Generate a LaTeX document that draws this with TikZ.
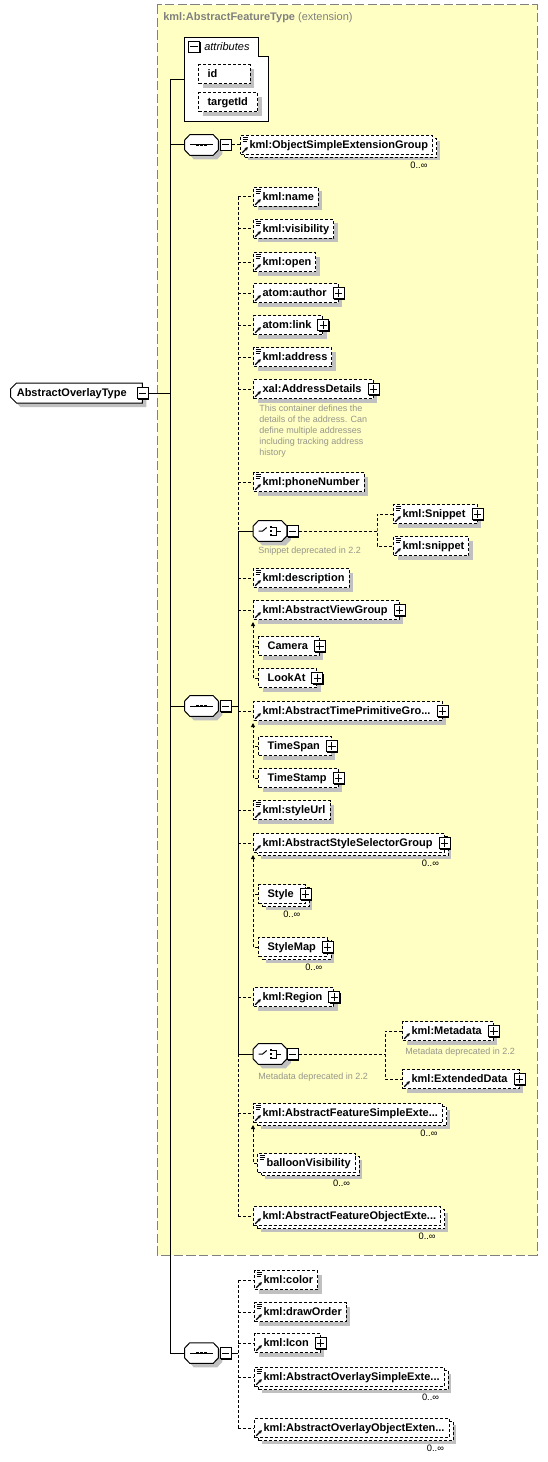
\documentclass[tikz,border=0pt]{standalone}
\usepackage{fontspec}
\setmainfont{Liberation Sans}
\usetikzlibrary{shapes.misc, shadows, arrows.meta}
\usetikzlibrary{positioning}

\definecolor{panelyellow}{RGB}{255,255,196}
\definecolor{panelgray}{RGB}{128,128,128}
\definecolor{shadowgray}{RGB}{192,192,192}
\definecolor{notegray}{RGB}{150,150,140}

% octagon outline of a compositor node
\newcommand{\octpath}[1]{([yshift=3.75pt]#1.west) -- ([xshift=3.75pt]#1.north west)
    -- ([xshift=-3.75pt]#1.north east) -- ([yshift=3.75pt]#1.east)
    -- ([yshift=-3.75pt]#1.east) -- ([xshift=-3.75pt]#1.south east)
    -- ([xshift=3.75pt]#1.south west) -- ([yshift=-3.75pt]#1.west) -- cycle}

\tikzset{
    elembase/.style = {
        rectangle,
        draw,
        line width=0.75pt,
        dash pattern=on 2.25pt off 1.5pt,
        fill=white,
        font=\bfseries\fontsize{8.25}{10}\selectfont,
        minimum height=14.25pt,
        inner xsep=3.4pt,
        inner ysep=0pt,
        text height=6.3pt,
        text depth=1.7pt,
        anchor=west,
        execute at begin node={\hspace*{3.4pt}},
    },
    elem/.style = {
        elembase,
        drop shadow={shadow xshift=3pt, shadow yshift=-3pt, fill=shadowgray, opacity=1},
    },
    multi/.style = {
        elembase,
        general shadow={shadow xshift=5.25pt, shadow yshift=-4.5pt, fill=shadowgray},
        general shadow={shadow xshift=3pt, shadow yshift=-2.25pt, fill=white, draw=black,
            line width=0.75pt, dash pattern=on 2.25pt off 1.5pt},
    },
    attrib/.style = {
        elem,
        align=left,
    },
    simple/.style = {
        postaction={path picture={
            \draw[solid, line width=0.6pt]
                ([xshift=1.5pt, yshift=-1.1pt]path picture bounding box.north west) -- ++(4.2pt,0)
                ([xshift=1.5pt, yshift=-2.6pt]path picture bounding box.north west) -- ++(4.2pt,0)
                ([xshift=1.5pt, yshift=-4.1pt]path picture bounding box.north west) -- ++(3.2pt,0);
        }},
    },
    ref/.style = {
        postaction={path picture={
            \draw[solid, line width=0.9pt, -{Stealth[length=2.4pt, width=2.6pt]}]
                ([xshift=1.3pt, yshift=1.3pt]path picture bounding box.south west) -- ++(4.2pt,4.2pt);
        }},
    },
    pmbox/.style = {
        rectangle,
        draw,
        solid,
        fill=white,
        line width=0.75pt,
        minimum size=8.25pt,
        inner sep=0pt,
        drop shadow={shadow xshift=0.75pt, shadow yshift=-0.75pt, fill=black, opacity=1},
    },
    minusbox/.style = {
        pmbox,
        path picture={
            \draw[line width=0.75pt] ([xshift=-2.7pt]path picture bounding box.center)
                -- ([xshift=2.7pt]path picture bounding box.center);
        },
    },
    plusbox/.style = {
        pmbox,
        path picture={
            \draw[line width=0.75pt] ([xshift=-2.7pt]path picture bounding box.center)
                -- ([xshift=2.7pt]path picture bounding box.center)
                ([yshift=-2.7pt]path picture bounding box.center)
                -- ([yshift=2.7pt]path picture bounding box.center);
        },
    },
    withplus/.style = {
        execute at end node={\hspace*{5.25pt}},
        append after command={node (\tikzlastnode-plus) [plusbox] at (\tikzlastnode.east) {}},
    },
    compnode/.style = {
        rectangle,
        minimum width=24.75pt,
        minimum height=15pt,
        inner sep=0pt,
    },
    compline/.style = {
        fill=white,
        line width=0.75pt,
    },
    rootbox/.style = {
        chamfered rectangle,
        chamfered rectangle corners={north west, south west},
        chamfered rectangle xsep=2.25pt,
        chamfered rectangle ysep=2.25pt,
        draw,
        line width=0.75pt,
        fill=white,
        font=\bfseries\fontsize{8.25}{10}\selectfont,
        minimum height=15pt,
        inner xsep=2.5pt,
        inner ysep=0pt,
        text height=6.3pt,
        text depth=1.7pt,
        anchor=west,
        execute at end node={\hspace*{7pt}},
        drop shadow={shadow xshift=3pt, shadow yshift=-3pt, fill=shadowgray, opacity=1},
    },
    mult/.style = {
        font=\fontsize{7}{8}\selectfont,
        inner sep=0pt,
        anchor=north east,
    },
    note/.style = {
        text=notegray,
        font=\fontsize{6.75}{8.25}\selectfont,
        align=left,
        inner sep=0pt,
    },
    optline/.style = {
        line width=0.75pt,
        dash pattern=on 2.25pt off 1.5pt,
    },
    reqline/.style = {
        line width=0.75pt,
    },
}

\begin{document}
\begin{tikzpicture}[x=0.75pt, y=-0.75pt]
        \useasboundingbox (0,0) rectangle (547,1462);

        % extension panel
        \draw[fill=panelyellow, draw=panelgray, line width=0.75pt, dash pattern=on 7pt off 2.5pt]
            (157,5) rectangle (537,1255);
        \node (exttitle) [anchor=west, inner sep=0pt, text=panelgray, font=\fontsize{8.25}{10}\selectfont]
            at (163,18) {\textbf{kml:AbstractFeatureType} (extension)};

        % attributes
        \draw[fill=white, line width=0.75pt] (184,38) -- (258,38) -- (258,57) -- (268,57)
            -- (268,122) -- (184,122) -- cycle;
        \node (attrm) [minusbox] at (194,47) {};
        \node (attrt) [anchor=west, inner sep=0pt, font=\itshape\fontsize{8.25}{10}\selectfont]
            at (204,47) {attributes};
        \node (id) [attrib, text width=32pt] at (198,74.5) {id};
        \node (tid) [attrib, text width=37.5pt] at (198,102.5) {targetId};
        \coordinate (attrw) at (184,80);

        % root
        \node (root) [rootbox] at (10,393) {AbstractOverlayType};
        \node (rootm) [minusbox] at (root.east) {};

        % compositors
        \node (seq1) [compnode] at (201.5,145) {};
        \node (seq2) [compnode] at (201.5,706) {};
        \node (seq3) [compnode] at (201.5,1353) {};
        \node (choice1) [compnode] at (270,531) {};
        \node (choice2) [compnode] at (270,1054) {};
        \foreach \c in {seq1,seq2,seq3,choice1,choice2} {
            \fill[shadowgray, transform canvas={shift={(3pt,-3pt)}}] \octpath{\c};
            \draw[compline] \octpath{\c};
        }
        \foreach \c in {seq1,seq2,seq3} {
            \draw[reqline] ([xshift=-8.6pt]\c.center) -- ([xshift=8.6pt]\c.center);
            \foreach \dx in {-3,0,3}
                \fill ([xshift=\dx pt]\c.center) ++(-0.9pt,-0.9pt) rectangle ++(1.8pt,1.8pt);
        }
        \foreach \c in {choice1,choice2} {
            \draw[reqline] ([xshift=-8.6pt]\c.center) -- ([xshift=-5.5pt]\c.center)
                -- ([xshift=-2.5pt,yshift=2.6pt]\c.center);
            \foreach \dy in {-3,0,3}
                \fill ([xshift=0.8pt,yshift=\dy pt]\c.center) ++(-0.9pt,-0.9pt) rectangle ++(1.8pt,1.8pt);
            \draw[reqline] ([xshift=1.8pt,yshift=3pt]\c.center) -- ([xshift=4.5pt,yshift=3pt]\c.center)
                -- ([xshift=4.5pt,yshift=-3pt]\c.center) -- ([xshift=1.8pt,yshift=-3pt]\c.center)
                ([xshift=4.5pt]\c.center) -- ([xshift=8pt]\c.center);
        }
        \node (seq1m) [minusbox, right=1pt of seq1] {};
        \node (seq2m) [minusbox, right=1pt of seq2] {};
        \node (seq3m) [minusbox, right=1pt of seq3] {};
        \node (choice1m) [minusbox, right=0pt of choice1] {};
        \node (choice2m) [minusbox, right=0pt of choice2] {};

        \node (osg) [multi, simple, ref] at (240,145) {kml:ObjectSimpleExtensionGroup};

        % feature children
        \node (name) [elem, simple, ref] at (253,197) {kml:name};
        \node (vis) [elem, simple, ref] at (253,229) {kml:visibility};
        \node (open) [elem, simple, ref] at (253,262) {kml:open};
        \node (author) [elem, ref, withplus] at (253,293) {atom:author};
        \node (link) [elem, ref, withplus] at (253,325) {atom:link};
        \node (addr) [elem, simple, ref] at (253,357) {kml:address};
        \node (xad) [elem, ref, withplus] at (253,389) {xal:AddressDetails};
        \node (xadnote) [note, anchor=north west] at (259,405)
            {This container defines the\\details of the address. Can\\define multiple addresses\\including tracking address\\history};
        \node (phone) [elem, simple, ref] at (253,482) {kml:phoneNumber};

        \node (snipnote) [note, anchor=west] at (258,551) {Snippet deprecated in 2.2};
        \node (snipU) [elem, simple, ref, withplus] at (393,514) {kml:Snippet};
        \node (snipL) [elem, simple, ref] at (393,546) {kml:snippet};

        \node (desc) [elem, simple, ref] at (253,578) {kml:description};
        \node (avg) [elem, ref, withplus] at (253,610) {kml:AbstractViewGroup};
        \node (cam) [elem, withplus] at (258,646) {Camera};
        \node (lookat) [elem, withplus] at (258,678) {LookAt};
        \node (tpg) [elem, ref, withplus] at (253,711) {kml:AbstractTimePrimitiveGro...};
        \node (tspan) [elem, withplus] at (258,746) {TimeSpan};
        \node (tstamp) [elem, withplus] at (258,778) {TimeStamp};
        \node (styleurl) [elem, simple, ref] at (253,810) {kml:styleUrl};
        \node (ssg) [multi, ref, withplus] at (253,843) {kml:AbstractStyleSelectorGroup};
        \node (sty) [multi, withplus] at (258,894) {Style};
        \node (smap) [multi, withplus] at (258,947) {StyleMap};
        \node (region) [elem, ref, withplus] at (253,997) {kml:Region};

        \node (choice2note) [note, anchor=west] at (258,1077) {Metadata deprecated in 2.2};
        \node (meta) [elem, ref, withplus] at (402,1031) {kml:Metadata};
        \node (metanote) [note, anchor=west] at (405,1052) {Metadata deprecated in 2.2};
        \node (exd) [elem, ref, withplus] at (402,1079) {kml:ExtendedData};

        \node (fse) [multi, simple, ref] at (253,1113) {kml:AbstractFeatureSimpleExte...};
        \node (bv) [multi, simple] at (257,1163) {balloonVisibility};
        \node (foe) [multi, ref] at (253,1216) {kml:AbstractFeatureObjectExte...};

        % overlay children
        \node (color) [elem, simple, ref] at (254,1280) {kml:color};
        \node (dorder) [elem, simple, ref] at (254,1312) {kml:drawOrder};
        \node (icon) [elem, ref, withplus] at (254,1343) {kml:Icon};
        \node (ose) [multi, simple, ref] at (254,1377) {kml:AbstractOverlaySimpleExte...};
        \node (ooe) [multi, ref] at (254,1428) {kml:AbstractOverlayObjectExten...};

        \foreach \n in {osg,ssg,sty,smap,fse,bv,foe,ose,ooe}
            \node (\n-mul) [mult] at ([xshift=-4pt,yshift=-5pt]\n.south east) {0..∞};

        % connectors
        \coordinate (bus) at (170,80);
        \draw[reqline] (attrw) -- (bus) |- (seq3.west);
        \draw[reqline] (rootm.east) -- (rootm.east -| bus);
        \draw[reqline] (seq1.west -| bus) -- (seq1.west);
        \draw[reqline] (seq2.west -| bus) -- (seq2.west);
        \draw[optline] (seq1m.east) -- (osg.west);

        \coordinate (bus2) at (238,706);
        \draw[reqline] (seq2m.east) -- (bus2);
        \draw[optline] (name.west -| bus2) -- (choice1.west -| bus2);
        \draw[reqline] (choice1.west -| bus2) -- (choice2.west -| bus2);
        \draw[optline] (choice2.west -| bus2) -- (foe.west -| bus2);
        \foreach \n in {name,vis,open,author,link,addr,xad,phone,desc,avg,tpg,styleurl,ssg,region,fse,foe}
            \draw[optline] (\n.west -| bus2) -- (\n.west);
        \draw[reqline] (choice1.west -| bus2) -- (choice1.west);
        \draw[reqline] (choice2.west -| bus2) -- (choice2.west);

        \coordinate (cbus1) at (377,531);
        \draw[optline] (choice1m.east) -- (cbus1);
        \draw[optline] (snipU.west) -| (cbus1) |- (snipL.west);
        \coordinate (cbus2) at (385,1054);
        \draw[optline] (choice2m.east) -- (cbus2);
        \draw[optline] (meta.west) -| (cbus2) |- (exd.west);

        % substitution groups
        \draw[optline, -{Triangle[length=3pt, width=3pt]}] (lookat.west) -| ([yshift=-1.5pt]avg.south west);
        \draw[optline] (cam.west) -- (cam.west -| avg.west);
        \draw[optline, -{Triangle[length=3pt, width=3pt]}] (tstamp.west) -| ([yshift=-1.5pt]tpg.south west);
        \draw[optline] (tspan.west) -- (tspan.west -| tpg.west);
        \draw[optline, -{Triangle[length=3pt, width=3pt]}] (smap.west) -| ([yshift=-1.5pt]ssg.south west);
        \draw[optline] (sty.west) -- (sty.west -| ssg.west);
        \draw[optline, -{Triangle[length=3pt, width=3pt]}] (bv.west) -| ([yshift=-1.5pt]fse.south west);

        \coordinate (bus3) at (238,1353);
        \draw[reqline] (seq3m.east) -- (bus3);
        \draw[optline] (color.west -| bus3) -- (ooe.west -| bus3);
        \foreach \n in {color,dorder,icon,ose,ooe}
            \draw[optline] (\n.west -| bus3) -- (\n.west);

    \end{tikzpicture}
\end{document}
